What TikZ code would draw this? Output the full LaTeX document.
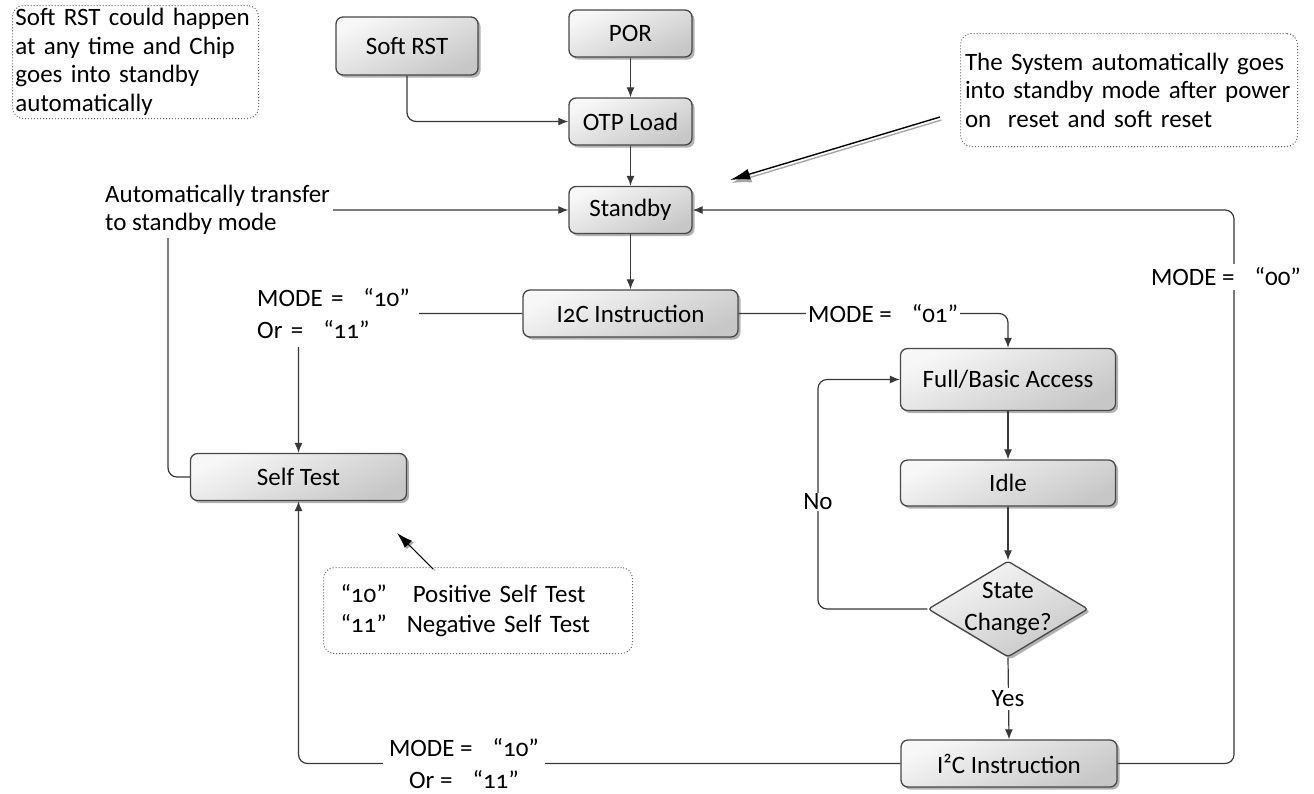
\documentclass[tikz,border=0pt]{standalone}
\usepackage{fontspec}
\setmainfont{Carlito}[Numbers=OldStyle]
\usetikzlibrary{arrows.meta,shapes.geometric,shadows,calc}

\newcommand{\txtA}{\fontsize{25}{28.5}\selectfont}
\newcommand{\txtB}{\fontsize{25}{32}\selectfont}
\newcommand{\txtC}{\fontsize{25}{30}\selectfont}
\newcommand{\gapq}{\hspace{20pt}}

\tikzset{
  box/.style={draw=black!72, line width=1.3pt, rounded corners=7pt,
    top color=black!3, bottom color=black!22, shading angle=25,
    drop shadow={shadow xshift=2.5pt, shadow yshift=-2.5pt, opacity=0.3, fill=black},
    inner sep=0pt, font=\txtA},
  decision/.style={box, diamond, rounded corners=3pt},
  conn/.style={draw=black!78, line width=1.2pt, rounded corners=9pt},
  arr/.style={conn, -{Latex[length=10pt,width=8pt]}},
  lbl/.style={fill=white, inner sep=2pt, font=\txtA},
  note/.style={draw=black!60, dotted, line width=1pt, rounded corners=11pt,
    align=left, font=\txtA, inner ysep=0pt},
  callout/.style={draw=black, line width=1.4pt},
  calloutshade/.style={draw=black!35, line width=1.4pt},
}

\begin{document}
\begin{tikzpicture}[x=1pt, y=-1pt]
\useasboundingbox (0,0) rectangle (1314,793);

% ---- main column ----
\node[box, minimum width=142pt, minimum height=58pt] (softrst) at (407,46) {Soft RST};
\node[box, minimum width=123pt, minimum height=47pt] (por) at (630.5,33.5) {POR};
\node[box, minimum width=123pt, minimum height=47pt] (otp) at (630.5,121.5) {OTP Load};
\node[box, minimum width=123pt, minimum height=47pt] (standby) at (630.5,210) {Standby};
\node[box, minimum width=215pt, minimum height=47pt] (i2ca) at (630.5,313.5) {I2C Instruction};

% ---- access loop ----
\node[box, minimum width=215pt, minimum height=62pt] (full) at (1008,379.5) {Full/Basic Access};
\node[box, minimum width=215pt, minimum height=46pt] (idle) at (1008,483) {Idle};
\node[decision, minimum width=160pt, minimum height=96pt] (chg) at (1008,609) {};
\node[align=center, font=\txtB, inner sep=0pt] (chgtxt) at (chg.center) {State\\Change?};
\node[box, minimum width=216pt, minimum height=47pt] (i2cb) at (1009,763.5) {I²C Instruction};

% ---- self test ----
\node[box, minimum width=216pt, minimum height=47pt] (selftest) at (298.5,477) {Self Test};

% ---- loop corners ----
\coordinate (noL) at (818,609);
\coordinate (rloop) at (1234,763.5);
\coordinate (lloop) at (168,477);

% ---- connectors ----
\draw[arr] (por) -- (otp);
\draw[arr] (otp) -- (standby);
\draw[arr] (standby) -- (i2ca);
\draw[arr] (softrst.south) |- (otp.west);
\draw[arr] (i2ca.west) -| (selftest.north);
\draw[arr] (i2ca.east) -| (full.north);
\draw[arr] (full) -- (idle);
\draw[arr] (idle) -- (chg.north);
\draw[arr] (chg.west) -- (noL) |- (full.west);
\draw[arr] (chg.south) -- (i2cb.north);
\draw[arr] (i2cb.west) -| (selftest.south);
\draw[arr] (i2cb.east) -- (rloop) |- (standby.east);
\draw[arr] (selftest.west) -- (lloop) |- (standby.west);

% ---- connector labels ----
\node[lbl, anchor=west, align=left, font=\txtB, text width=160pt, inner ysep=8pt] (modeA) at (255,313.5)
  {MODE =\gapq“10”\\Or =\gapq“11”};
\node[lbl, anchor=west] (modeB) at (806,313.5) {MODE =\gapq“01”\hspace{12pt}};
\node[lbl, inner ysep=4pt] (modeC) at (1226,277) {MODE =\gapq“00”};
\node[lbl, align=center, font=\txtB, inner xsep=6pt] (modeD) at (464,763.5)
  {MODE =\gapq“10”\\Or =\gapq“11”};
\node[lbl, anchor=west, align=left, inner xsep=3pt, inner ysep=3pt] (autolbl) at (102,210)
  {Automatically transfer\\to standby mode};
\node[lbl, inner sep=1pt] (nolbl) at (818,502) {No};
\node[lbl, inner xsep=1pt, inner ysep=3pt] (yeslbl) at (1008,699) {Yes};

% ---- notes ----
\node[note, anchor=north west, minimum width=246pt, minimum height=113pt,
      text width=240pt, inner xsep=3pt] (noteA) at (12,5)
  {Soft RST could happen\\at any time and Chip\\goes into standby\\automatically};
\node[note, anchor=north west, minimum width=337pt, minimum height=113pt,
      text width=332pt, inner xsep=2.5pt] (noteB) at (960,33)
  {\hspace*{2pt}The System automatically goes\\\hspace*{2pt}into standby mode after power\\\hspace*{2pt}on\ \ reset and soft reset};
\node[note, anchor=north west, minimum width=309pt, minimum height=86pt,
      text width=275pt, inner xsep=17pt, font=\txtC] (noteC) at (323,567)
  {“10”\hspace{26pt}Positive Self Test\\“11”\hspace{20pt}Negative Self Test};

% ---- callout pointers ----
\coordinate (ptAs) at (940,117);
\coordinate (ptAe) at (730,180);
\coordinate (ptCs) at (433,569);
\coordinate (ptCe) at (397,533);
\draw[calloutshade, -{Latex[length=20pt,width=11pt]}] ($(ptAs)+(1.5,3)$) -- ($(ptAe)+(1.5,3)$);
\draw[callout, -{Latex[length=20pt,width=11pt]}] (ptAs) -- (ptAe);
\draw[calloutshade, line width=1pt, -{Latex[length=16pt,width=10pt]}] ($(ptCs)+(2,1.5)$) -- ($(ptCe)+(2,1.5)$);
\draw[callout, line width=1pt, -{Latex[length=16pt,width=10pt]}] (ptCs) -- (ptCe);
\end{tikzpicture}
\end{document}
